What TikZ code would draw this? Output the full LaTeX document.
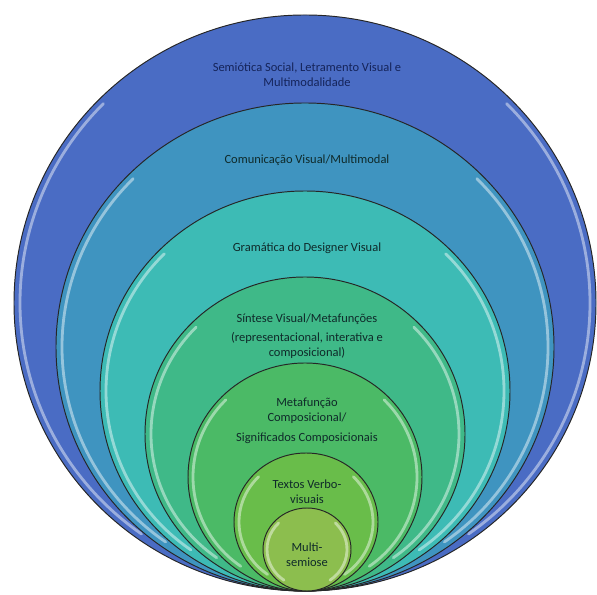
\documentclass[tikz,border=0pt]{standalone}
\usepackage{fontspec}
\setmainfont{Carlito}
\usetikzlibrary{calc}
\definecolor{ringA}{HTML}{4A6CC4}
\definecolor{ringB}{HTML}{3F94C0}
\definecolor{ringC}{HTML}{3DBBB5}
\definecolor{ringD}{HTML}{3FB988}
\definecolor{ringE}{HTML}{4BBA66}
\definecolor{ringF}{HTML}{69BD4A}
\definecolor{ringG}{HTML}{8CBE4E}
\definecolor{inkA}{HTML}{15245A}
\definecolor{inkB}{HTML}{0F2A2A}
\def\bevelarc[#1](#2)(#3:#4:#5:#6){\draw[#1] ($(#2)+({#5*cos(#3)},{#6*sin(#3)})$) arc[start angle=#3, end angle=#4, x radius=#5, y radius=#6];}
\tikzset{
  rim/.style={draw=black!85, line width=0.55pt},
  glint/.style={white, line width=1.6pt, opacity=0.45, line cap=round},
  lbl/.style={font=\fontsize{7.1}{8.3}\selectfont, align=center, text=inkB}
}

\begin{document}
\begin{tikzpicture}[x=0.02cm, y=0.02cm]
		\useasboundingbox (0, 0) rectangle (597, 594);
		%%%%% START %%%%%
		
		\fill[ringA] (305, 291) ellipse [x radius=291, y radius=288];
		\bevelarc[glint](305, 291)(135:235:285:282)
		\bevelarc[glint](305, 291)(-55:45:285:282)
		\draw[rim] (305, 291) ellipse [x radius=291, y radius=288];
		
		\fill[ringB] (305, 247) ellipse [x radius=249, y radius=244];
		\bevelarc[glint](305, 247)(135:235:243:238)
		\bevelarc[glint](305, 247)(-55:45:243:238)
		\draw[rim] (305, 247) ellipse [x radius=249, y radius=244];
		
		\fill[ringC] (305, 203) ellipse [x radius=205, y radius=200];
		\bevelarc[glint](305, 203)(135:235:199:194)
		\bevelarc[glint](305, 203)(-55:45:199:194)
		\draw[rim] (305, 203) ellipse [x radius=205, y radius=200];
		
		\fill[ringD] (305, 160) ellipse [x radius=160, y radius=157];
		\bevelarc[glint](305, 160)(135:235:154:151)
		\bevelarc[glint](305, 160)(-55:45:154:151)
		\draw[rim] (305, 160) ellipse [x radius=160, y radius=157];
		
		\fill[ringE] (305, 117) ellipse [x radius=117, y radius=114];
		\bevelarc[glint](305, 117)(135:235:112:109)
		\bevelarc[glint](305, 117)(-55:45:112:109)
		\draw[rim] (305, 117) ellipse [x radius=117, y radius=114];
		
		\fill[ringF] (306, 72) ellipse [x radius=72, y radius=69];
		\bevelarc[glint](306, 72)(135:235:67:64)
		\bevelarc[glint](306, 72)(-55:45:67:64)
		\draw[rim] (306, 72) ellipse [x radius=72, y radius=69];
		
		\fill[ringG] (307, 44.5) ellipse [x radius=44, y radius=41.5];
		\bevelarc[glint](307, 44.5)(135:235:40:37.5)
		\bevelarc[glint](307, 44.5)(-55:45:40:37.5)
		\draw[rim] (307, 44.5) ellipse [x radius=44, y radius=41.5];
		
		\node[lbl, text=inkA] (semiotica) at (307, 519.5) {Semiótica Social, Letramento Visual e\\Multimodalidade};
		\node[lbl] (comunicacao) at (307, 434) {Comunicação Visual/Multimodal};
		\node[lbl] (gramatica) at (307, 346) {Gramática do Designer Visual};
		\node[lbl] (sintese) at (307, 258) {Síntese Visual/Metafunções\\[3pt](representacional, interativa e\\composicional)};
		\node[lbl] (metafuncao) at (307, 173) {Metafunção\\Composicional/\\[3pt]Significados Composicionais};
		\node[lbl] (textos) at (307, 102) {Textos Verbo-\\visuais};
		\node[lbl] (multi) at (307, 39) {Multi-\\semiose};
		
		%%%%% END %%%%%
	\end{tikzpicture}
\end{document}
